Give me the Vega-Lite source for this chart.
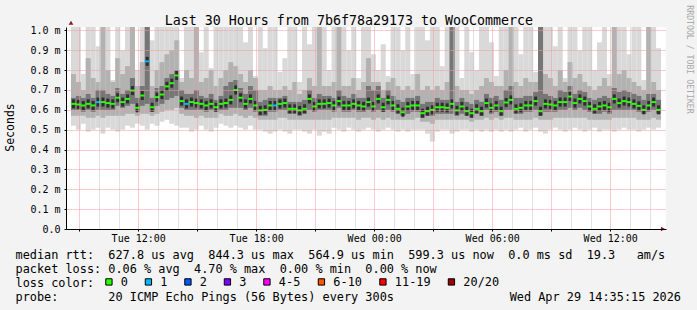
{
  "$schema": "https://vega.github.io/schema/vega-lite/v6.json",
  "width": 600,
  "height": 202,
  "autosize": {"type": "none"},
  "padding": {"left": 66, "top": 27, "right": 31, "bottom": 81},
  "background": "#f3f3f3",
  "config": {
    "view": {"fill": "white", "stroke": null},
    "font": "DejaVu Sans Mono",
    "axis": {"labelFlush": false, "labelOverlap": false, "labelBound": false}
  },
  "data": {"values": [
    {"t":8.708,"m":0.630,"l":"0","a":0.52,"b":1.05,"c":0.57,"d":0.78,"e":0.60,"f":0.66},
    {"t":8.958,"m":0.627,"l":"0","a":0.50,"b":1.05,"c":0.57,"d":0.74,"e":0.60,"f":0.67},
    {"t":9.208,"m":0.622,"l":"0","a":0.53,"b":0.78,"c":0.57,"d":0.70,"e":0.59,"f":0.66},
    {"t":9.458,"m":0.630,"l":"0","a":0.49,"b":1.05,"c":0.56,"d":0.86,"e":0.60,"f":0.68},
    {"t":9.708,"m":0.622,"l":"0","a":0.50,"b":1.05,"c":0.56,"d":0.76,"e":0.59,"f":0.66},
    {"t":9.958,"m":0.639,"l":"1","a":0.51,"b":0.92,"c":0.57,"d":0.74,"e":0.60,"f":0.70},
    {"t":10.208,"m":0.639,"l":"0","a":0.48,"b":1.05,"c":0.56,"d":1.05,"e":0.60,"f":0.70},
    {"t":10.458,"m":0.634,"l":"0","a":0.51,"b":1.05,"c":0.57,"d":0.80,"e":0.60,"f":0.68},
    {"t":10.708,"m":0.630,"l":"0","a":0.50,"b":0.75,"c":0.57,"d":0.74,"e":0.60,"f":0.67},
    {"t":10.958,"m":0.661,"l":"0","a":0.49,"b":1.05,"c":0.57,"d":0.86,"e":0.62,"f":0.71},
    {"t":11.208,"m":0.639,"l":"0","a":0.50,"b":0.90,"c":0.57,"d":0.78,"e":0.61,"f":0.68},
    {"t":11.458,"m":0.655,"l":"0","a":0.52,"b":1.05,"c":0.58,"d":0.82,"e":0.62,"f":0.70},
    {"t":11.708,"m":0.697,"l":"0","a":0.51,"b":1.05,"c":0.58,"d":1.05,"e":0.63,"f":0.76},
    {"t":11.958,"m":0.610,"l":"0","a":0.53,"b":0.80,"c":0.57,"d":0.72,"e":0.59,"f":0.66},
    {"t":12.208,"m":0.672,"l":"0","a":0.52,"b":1.05,"c":0.58,"d":0.84,"e":0.62,"f":0.72},
    {"t":12.458,"m":0.844,"l":"1","a":0.50,"b":1.05,"c":0.58,"d":1.05,"e":0.63,"f":1.05},
    {"t":12.708,"m":0.613,"l":"0","a":0.53,"b":0.95,"c":0.57,"d":0.72,"e":0.59,"f":0.66},
    {"t":12.958,"m":0.664,"l":"0","a":0.52,"b":1.05,"c":0.58,"d":0.80,"e":0.62,"f":0.71},
    {"t":13.208,"m":0.677,"l":"0","a":0.54,"b":1.05,"c":0.59,"d":0.84,"e":0.63,"f":0.72},
    {"t":13.458,"m":0.718,"l":"0","a":0.55,"b":1.05,"c":0.60,"d":0.88,"e":0.65,"f":0.76},
    {"t":13.708,"m":0.734,"l":"0","a":0.53,"b":1.05,"c":0.60,"d":0.90,"e":0.66,"f":0.78},
    {"t":13.958,"m":0.773,"l":"0","a":0.52,"b":1.05,"c":0.61,"d":0.95,"e":0.67,"f":0.80},
    {"t":14.208,"m":0.644,"l":"0","a":0.51,"b":0.76,"c":0.58,"d":0.74,"e":0.61,"f":0.70},
    {"t":14.458,"m":0.630,"l":"1","a":0.51,"b":1.05,"c":0.57,"d":0.80,"e":0.60,"f":0.68},
    {"t":14.708,"m":0.639,"l":"0","a":0.49,"b":1.05,"c":0.57,"d":0.76,"e":0.60,"f":0.68},
    {"t":14.958,"m":0.634,"l":"0","a":0.50,"b":1.05,"c":0.56,"d":1.05,"e":0.60,"f":0.70},
    {"t":15.208,"m":0.630,"l":"0","a":0.52,"b":0.89,"c":0.57,"d":0.74,"e":0.60,"f":0.67},
    {"t":15.458,"m":0.622,"l":"0","a":0.50,"b":1.05,"c":0.56,"d":0.76,"e":0.59,"f":0.66},
    {"t":15.708,"m":0.630,"l":"0","a":0.49,"b":0.81,"c":0.56,"d":0.80,"e":0.60,"f":0.68},
    {"t":15.958,"m":0.613,"l":"0","a":0.51,"b":1.05,"c":0.56,"d":0.72,"e":0.59,"f":0.65},
    {"t":16.208,"m":0.630,"l":"0","a":0.53,"b":1.05,"c":0.58,"d":0.76,"e":0.60,"f":0.67},
    {"t":16.458,"m":0.634,"l":"0","a":0.52,"b":1.05,"c":0.57,"d":0.80,"e":0.60,"f":0.72},
    {"t":16.708,"m":0.650,"l":"0","a":0.51,"b":1.05,"c":0.57,"d":0.84,"e":0.61,"f":0.74},
    {"t":16.958,"m":0.700,"l":"0","a":0.52,"b":1.05,"c":0.58,"d":0.82,"e":0.61,"f":0.75},
    {"t":17.208,"m":0.661,"l":"0","a":0.51,"b":1.05,"c":0.57,"d":0.78,"e":0.61,"f":0.71},
    {"t":17.458,"m":0.630,"l":"0","a":0.50,"b":0.94,"c":0.56,"d":0.74,"e":0.60,"f":0.68},
    {"t":17.708,"m":0.655,"l":"0","a":0.52,"b":1.05,"c":0.57,"d":0.80,"e":0.61,"f":0.72},
    {"t":17.958,"m":0.622,"l":"0","a":0.50,"b":0.77,"c":0.56,"d":0.76,"e":0.59,"f":0.70},
    {"t":18.208,"m":0.597,"l":"0","a":0.50,"b":1.05,"c":0.55,"d":0.70,"e":0.57,"f":0.64},
    {"t":18.458,"m":0.600,"l":"0","a":0.49,"b":0.91,"c":0.55,"d":0.70,"e":0.57,"f":0.65},
    {"t":18.708,"m":0.622,"l":"0","a":0.48,"b":1.05,"c":0.55,"d":0.72,"e":0.59,"f":0.66},
    {"t":18.958,"m":0.622,"l":"1","a":0.49,"b":1.05,"c":0.55,"d":0.70,"e":0.59,"f":0.66},
    {"t":19.208,"m":0.630,"l":"0","a":0.50,"b":0.79,"c":0.56,"d":0.70,"e":0.60,"f":0.66},
    {"t":19.458,"m":0.634,"l":"0","a":0.49,"b":0.86,"c":0.56,"d":0.72,"e":0.60,"f":0.67},
    {"t":19.708,"m":0.605,"l":"0","a":0.48,"b":1.05,"c":0.55,"d":0.70,"e":0.58,"f":0.64},
    {"t":19.958,"m":0.605,"l":"0","a":0.50,"b":1.05,"c":0.55,"d":0.74,"e":0.58,"f":0.64},
    {"t":20.208,"m":0.597,"l":"0","a":0.50,"b":0.74,"c":0.55,"d":0.68,"e":0.57,"f":0.64},
    {"t":20.458,"m":0.605,"l":"0","a":0.49,"b":1.05,"c":0.55,"d":0.70,"e":0.58,"f":0.65},
    {"t":20.708,"m":0.655,"l":"0","a":0.48,"b":0.93,"c":0.55,"d":0.76,"e":0.60,"f":0.70},
    {"t":20.958,"m":0.617,"l":"0","a":0.50,"b":1.05,"c":0.55,"d":0.72,"e":0.59,"f":0.66},
    {"t":21.208,"m":0.630,"l":"0","a":0.47,"b":1.05,"c":0.55,"d":1.05,"e":0.60,"f":0.68},
    {"t":21.458,"m":0.630,"l":"0","a":0.49,"b":1.05,"c":0.55,"d":0.72,"e":0.60,"f":0.67},
    {"t":21.708,"m":0.634,"l":"0","a":0.48,"b":0.80,"c":0.55,"d":0.72,"e":0.60,"f":0.67},
    {"t":21.958,"m":0.622,"l":"0","a":0.51,"b":1.05,"c":0.56,"d":0.74,"e":0.59,"f":0.66},
    {"t":22.208,"m":0.644,"l":"0","a":0.50,"b":1.05,"c":0.56,"d":1.05,"e":0.61,"f":0.70},
    {"t":22.458,"m":0.622,"l":"0","a":0.49,"b":1.05,"c":0.56,"d":0.72,"e":0.59,"f":0.67},
    {"t":22.708,"m":0.622,"l":"0","a":0.51,"b":0.90,"c":0.56,"d":0.72,"e":0.59,"f":0.66},
    {"t":22.958,"m":0.630,"l":"0","a":0.50,"b":1.05,"c":0.56,"d":0.76,"e":0.60,"f":0.68},
    {"t":23.208,"m":0.622,"l":"0","a":0.49,"b":0.76,"c":0.55,"d":0.70,"e":0.59,"f":0.66},
    {"t":23.458,"m":0.617,"l":"0","a":0.50,"b":1.05,"c":0.56,"d":0.74,"e":0.59,"f":0.66},
    {"t":23.708,"m":0.639,"l":"0","a":0.51,"b":1.05,"c":0.56,"d":0.86,"e":0.60,"f":0.72},
    {"t":23.958,"m":0.617,"l":"0","a":0.50,"b":0.88,"c":0.55,"d":0.74,"e":0.59,"f":0.70},
    {"t":24.208,"m":0.655,"l":"0","a":0.49,"b":0.80,"c":0.56,"d":0.74,"e":0.60,"f":0.72},
    {"t":24.458,"m":0.613,"l":"0","a":0.50,"b":0.93,"c":0.55,"d":0.70,"e":0.59,"f":0.66},
    {"t":24.708,"m":0.650,"l":"0","a":0.51,"b":0.77,"c":0.56,"d":0.74,"e":0.60,"f":0.70},
    {"t":24.958,"m":0.622,"l":"0","a":0.50,"b":1.05,"c":0.55,"d":0.76,"e":0.59,"f":0.67},
    {"t":25.208,"m":0.605,"l":"0","a":0.49,"b":1.05,"c":0.55,"d":0.72,"e":0.58,"f":0.65},
    {"t":25.458,"m":0.588,"l":"0","a":0.50,"b":0.90,"c":0.55,"d":0.70,"e":0.57,"f":0.64},
    {"t":25.708,"m":0.617,"l":"0","a":0.49,"b":1.05,"c":0.55,"d":0.72,"e":0.58,"f":0.66},
    {"t":25.958,"m":0.622,"l":"0","a":0.50,"b":0.78,"c":0.55,"d":0.70,"e":0.59,"f":0.66},
    {"t":26.208,"m":0.622,"l":"0","a":0.50,"b":1.05,"c":0.56,"d":0.78,"e":0.59,"f":0.67},
    {"t":26.458,"m":0.583,"l":"0","a":0.50,"b":1.05,"c":0.54,"d":0.70,"e":0.56,"f":0.63},
    {"t":26.708,"m":0.593,"l":"0","a":0.48,"b":0.95,"c":0.54,"d":0.72,"e":0.57,"f":0.64},
    {"t":26.958,"m":0.600,"l":"0","a":0.44,"b":1.05,"c":0.53,"d":0.70,"e":0.57,"f":0.64},
    {"t":27.208,"m":0.613,"l":"0","a":0.49,"b":1.05,"c":0.55,"d":0.72,"e":0.58,"f":0.66},
    {"t":27.458,"m":0.613,"l":"0","a":0.50,"b":0.82,"c":0.55,"d":0.70,"e":0.58,"f":0.65},
    {"t":27.708,"m":0.610,"l":"0","a":0.50,"b":1.05,"c":0.55,"d":0.74,"e":0.58,"f":0.65},
    {"t":27.958,"m":0.630,"l":"0","a":0.48,"b":1.05,"c":0.55,"d":1.05,"e":0.58,"f":1.05},
    {"t":28.208,"m":0.597,"l":"0","a":0.49,"b":1.05,"c":0.55,"d":0.72,"e":0.57,"f":0.64},
    {"t":28.458,"m":0.617,"l":"0","a":0.50,"b":0.76,"c":0.55,"d":0.70,"e":0.58,"f":0.66},
    {"t":28.708,"m":0.593,"l":"0","a":0.50,"b":1.05,"c":0.55,"d":0.70,"e":0.57,"f":0.64},
    {"t":28.958,"m":0.583,"l":"0","a":0.49,"b":0.89,"c":0.54,"d":0.68,"e":0.56,"f":0.63},
    {"t":29.208,"m":0.605,"l":"0","a":0.50,"b":0.80,"c":0.55,"d":0.70,"e":0.58,"f":0.65},
    {"t":29.458,"m":0.593,"l":"0","a":0.49,"b":1.05,"c":0.55,"d":0.72,"e":0.57,"f":0.64},
    {"t":29.708,"m":0.634,"l":"0","a":0.50,"b":1.05,"c":0.56,"d":0.76,"e":0.60,"f":0.68},
    {"t":29.958,"m":0.610,"l":"0","a":0.49,"b":0.94,"c":0.55,"d":0.74,"e":0.58,"f":0.66},
    {"t":30.208,"m":0.622,"l":"0","a":0.50,"b":0.77,"c":0.56,"d":0.72,"e":0.59,"f":0.67},
    {"t":30.458,"m":0.593,"l":"0","a":0.49,"b":1.05,"c":0.55,"d":0.72,"e":0.57,"f":0.65},
    {"t":30.708,"m":0.637,"l":"0","a":0.50,"b":1.05,"c":0.56,"d":0.80,"e":0.60,"f":0.70},
    {"t":30.958,"m":0.650,"l":"0","a":0.49,"b":1.05,"c":0.56,"d":1.05,"e":0.60,"f":0.72},
    {"t":31.208,"m":0.605,"l":"0","a":0.50,"b":1.05,"c":0.55,"d":0.74,"e":0.58,"f":0.66},
    {"t":31.458,"m":0.610,"l":"0","a":0.51,"b":0.88,"c":0.55,"d":0.72,"e":0.58,"f":0.66},
    {"t":31.708,"m":0.622,"l":"0","a":0.49,"b":1.05,"c":0.55,"d":0.76,"e":0.59,"f":0.67},
    {"t":31.958,"m":0.622,"l":"0","a":0.50,"b":1.05,"c":0.55,"d":0.74,"e":0.59,"f":0.67},
    {"t":32.208,"m":0.644,"l":"0","a":0.51,"b":0.79,"c":0.56,"d":0.74,"e":0.60,"f":0.69},
    {"t":32.458,"m":0.593,"l":"0","a":0.49,"b":1.05,"c":0.55,"d":1.05,"e":0.57,"f":1.05},
    {"t":32.708,"m":0.630,"l":"0","a":0.48,"b":1.05,"c":0.55,"d":0.78,"e":0.59,"f":0.68},
    {"t":32.958,"m":0.627,"l":"0","a":0.50,"b":1.05,"c":0.55,"d":0.76,"e":0.59,"f":0.67},
    {"t":33.208,"m":0.622,"l":"0","a":0.51,"b":0.92,"c":0.56,"d":0.72,"e":0.59,"f":0.66},
    {"t":33.458,"m":0.639,"l":"0","a":0.50,"b":1.05,"c":0.56,"d":0.80,"e":0.60,"f":0.70},
    {"t":33.708,"m":0.639,"l":"0","a":0.49,"b":0.76,"c":0.56,"d":0.74,"e":0.60,"f":0.69},
    {"t":33.958,"m":0.667,"l":"0","a":0.50,"b":1.05,"c":0.56,"d":0.84,"e":0.61,"f":0.72},
    {"t":34.208,"m":0.634,"l":"0","a":0.51,"b":1.05,"c":0.56,"d":0.76,"e":0.60,"f":0.68},
    {"t":34.458,"m":0.655,"l":"0","a":0.50,"b":0.90,"c":0.56,"d":0.78,"e":0.61,"f":0.70},
    {"t":34.708,"m":0.644,"l":"0","a":0.49,"b":1.05,"c":0.56,"d":0.74,"e":0.60,"f":0.69},
    {"t":34.958,"m":0.617,"l":"0","a":0.50,"b":1.05,"c":0.55,"d":0.72,"e":0.59,"f":0.66},
    {"t":35.208,"m":0.605,"l":"0","a":0.51,"b":0.80,"c":0.55,"d":0.70,"e":0.58,"f":0.65},
    {"t":35.458,"m":0.617,"l":"0","a":0.49,"b":0.94,"c":0.55,"d":0.72,"e":0.58,"f":0.66},
    {"t":35.708,"m":0.622,"l":"0","a":0.50,"b":1.05,"c":0.55,"d":0.76,"e":0.59,"f":0.67},
    {"t":35.958,"m":0.613,"l":"0","a":0.50,"b":0.78,"c":0.55,"d":0.72,"e":0.58,"f":0.66},
    {"t":36.208,"m":0.655,"l":"0","a":0.49,"b":1.05,"c":0.56,"d":1.05,"e":0.60,"f":0.71},
    {"t":36.458,"m":0.634,"l":"0","a":0.50,"b":1.05,"c":0.56,"d":0.78,"e":0.60,"f":0.69},
    {"t":36.708,"m":0.644,"l":"0","a":0.51,"b":1.05,"c":0.56,"d":0.80,"e":0.60,"f":0.70},
    {"t":36.958,"m":0.639,"l":"0","a":0.50,"b":0.88,"c":0.56,"d":0.76,"e":0.60,"f":0.69},
    {"t":37.208,"m":0.630,"l":"0","a":0.50,"b":1.05,"c":0.56,"d":0.74,"e":0.60,"f":0.68},
    {"t":37.458,"m":0.620,"l":"0","a":0.49,"b":1.05,"c":0.55,"d":0.72,"e":0.59,"f":0.67},
    {"t":37.708,"m":0.600,"l":"0","a":0.50,"b":0.75,"c":0.55,"d":0.70,"e":0.58,"f":0.65},
    {"t":37.958,"m":0.622,"l":"0","a":0.51,"b":1.05,"c":0.55,"d":1.05,"e":0.59,"f":0.68},
    {"t":38.208,"m":0.639,"l":"0","a":0.50,"b":1.05,"c":0.56,"d":0.74,"e":0.60,"f":0.68},
    {"t":38.458,"m":0.600,"l":"0","a":0.51,"b":0.91,"c":0.55,"d":0.70,"e":0.58,"f":0.65}
  ]},
  "layer": [
    {
      "mark": {"type": "bar", "width": 5, "color": "#d9d9d9", "clip": true},
      "encoding": {
        "x": {"field": "t", "type": "quantitative", "scale": {"domain": [8.583, 38.583], "nice": false, "zero": false},
          "axis": {"orient": "bottom", "values": [10,11,13,14,16,17,19,20,22,23,25,26,28,29,31,32,34,35,37,38],
            "grid": true, "gridColor": "#c4c4c4", "gridDash": [1,1], "labels": false, "ticks": false, "domain": false,
            "title": "Last 30 Hours from 7b6f78a29173 to WooCommerce", "titleX": 282.4, "titleY": -205, "titleAlign": "center", "titleBaseline": "alphabetic",
            "titleFont": "DejaVu Sans Mono", "titleFontSize": 13.3, "titleFontWeight": "normal", "titleColor": "#000000", "zindex": 1}},
        "y": {"field": "a", "type": "quantitative", "scale": {"domain": [0, 1.017], "nice": false, "zero": false},
          "axis": {"orient": "left", "values": [0,0.1,0.2,0.3,0.4,0.5,0.6,0.7,0.8,0.9,1.0],
            "labelExpr": "datum.value == 0 ? '0.0' : format(datum.value, '.1f') + ' m'",
            "labelFont": "DejaVu Sans Mono", "labelFontSize": 10, "labelColor": "#000000", "labelPadding": 4,
            "tickSize": 2, "tickColor": "#000000", "domainColor": "#000000",
            "grid": true, "gridColor": "#ee9a9a", "gridDash": [1,1],
            "title": "Seconds", "titleFont": "DejaVu Sans Mono", "titleFontSize": 11.5, "titleFontWeight": "normal", "titleColor": "#000000",
            "titleAngle": 270, "titleX": -56, "titleY": 100, "titleAlign": "center", "titleBaseline": "middle", "zindex": 1}},
        "y2": {"field": "b"}
      }
    },
    {
      "mark": {"type": "bar", "width": 5, "color": "#b2b2b2", "clip": true},
      "encoding": {
        "x": {"field": "t", "type": "quantitative", "scale": {"domain": [8.583, 38.583], "nice": false, "zero": false},
          "axis": {"orient": "bottom", "values": [9,12,15,18,21,24,27,30,33,36],
            "grid": true, "gridColor": "#ee9a9a", "gridDash": [1,1], "labels": false, "ticks": true, "tickSize": 2, "tickColor": "#000000", "domain": false,
            "title": "Wed Apr 29 14:35:15 2026", "titleX": 614.5, "titleY": 71, "titleAlign": "right", "titleBaseline": "alphabetic",
            "titleFont": "DejaVu Sans Mono", "titleFontSize": 11.86, "titleFontWeight": "normal", "titleColor": "#000000", "zindex": 1}},
        "y": {"field": "c", "type": "quantitative", "scale": {"domain": [0, 1.017], "nice": false, "zero": false},
          "axis": {"orient": "right", "labels": false, "ticks": false, "domain": false, "grid": false,
            "title": "RRDTOOL / TOBI OETIKER", "titleAngle": 90, "titleX": 22.3, "titleY": 32, "titleAlign": "center", "titleBaseline": "middle",
            "titleFont": "DejaVu Sans Mono", "titleFontSize": 8.2, "titleFontWeight": "normal", "titleColor": "#a8a8a8"}},
        "y2": {"field": "d"}
      }
    },
    {
      "mark": {"type": "bar", "width": 5, "color": "#767676", "clip": true},
      "encoding": {
        "x": {"field": "t", "type": "quantitative", "scale": {"domain": [8.583, 38.583], "nice": false, "zero": false},
          "axis": {"orient": "bottom", "values": [12,18,24,30,36],
            "labelExpr": "datum.value == 12 ? 'Tue 12:00' : datum.value == 18 ? 'Tue 18:00' : datum.value == 24 ? 'Wed 00:00' : datum.value == 30 ? 'Wed 06:00' : 'Wed 12:00'",
            "labelFont": "DejaVu Sans Mono", "labelFontSize": 10, "labelColor": "#000000", "labelPadding": 4,
            "ticks": false, "tickSize": 0, "grid": false, "domain": true, "domainColor": "#000000",
            "title": [
              "median\u00a0rtt:\u00a0\u00a0627.8\u00a0us\u00a0avg\u00a0\u00a0844.3\u00a0us\u00a0max\u00a0\u00a0564.9\u00a0us\u00a0min\u00a0\u00a0599.3\u00a0us\u00a0now\u00a0\u00a00.0\u00a0ms\u00a0sd\u00a0\u00a019.3\u00a0\u00a0\u00a0am/s",
              "packet\u00a0loss:\u00a00.06\u00a0%\u00a0avg\u00a0\u00a04.70\u00a0%\u00a0max\u00a0\u00a00.00\u00a0%\u00a0min\u00a0\u00a00.00\u00a0%\u00a0now",
              "loss\u00a0color:",
              "probe:\u00a0\u00a0\u00a0\u00a0\u00a0\u00a0\u00a020\u00a0ICMP\u00a0Echo\u00a0Pings\u00a0(56\u00a0Bytes)\u00a0every\u00a0300s"
            ],
            "titleX": -51, "titleY": 29, "titleAlign": "left", "titleBaseline": "alphabetic", "titleLineHeight": 14,
            "titleFont": "DejaVu Sans Mono", "titleFontSize": 11.86, "titleFontWeight": "normal", "titleColor": "#000000", "zindex": 2}},
        "y": {"field": "e", "type": "quantitative", "scale": {"domain": [0, 1.017], "nice": false, "zero": false}, "axis": null},
        "y2": {"field": "f"}
      }
    },
    {
      "mark": {"type": "tick", "orient": "vertical", "thickness": 3, "size": 9, "color": "#2e2e2e", "opacity": 1, "clip": true},
      "encoding": {
        "x": {"field": "t", "type": "quantitative", "scale": {"domain": [8.583, 38.583], "nice": false, "zero": false}, "axis": null},
        "y": {"field": "m", "type": "quantitative", "scale": {"domain": [0, 1.017], "nice": false, "zero": false}, "axis": null}
      }
    },
    {
      "mark": {"type": "tick", "orient": "horizontal", "thickness": 2, "size": 5, "opacity": 1, "clip": true},
      "encoding": {
        "x": {"field": "t", "type": "quantitative", "scale": {"domain": [8.583, 38.583], "nice": false, "zero": false}, "axis": null},
        "y": {"field": "m", "type": "quantitative", "scale": {"domain": [0, 1.017], "nice": false, "zero": false}, "axis": null},
        "color": {"field": "l", "type": "nominal",
          "scale": {"domain": ["0","1","2","3","4-5","6-10","11-19","20/20"],
                    "range": ["#26ff00","#00b8ff","#0059ff","#7e00ff","#ff00ff","#ff5500","#ff0000","#a10000"]},
          "legend": {"orient": "none", "legendX": 37, "legendY": 249, "direction": "horizontal", "columns": 8, "gridAlign": "none",
            "title": null, "symbolType": "square", "symbolSize": 40, "symbolStrokeWidth": 1, "symbolOpacity": 1,
            "labelFont": "DejaVu Sans Mono", "labelFontSize": 11.86, "labelColor": "#000000", "labelOffset": 6, "columnPadding": 14.5, "padding": 0,
            "encode": {"symbols": {"update": {"stroke": {"value": "#000000"}, "strokeWidth": {"value": 1}, "opacity": {"value": 1}}}}}}
      }
    },
    {
      "data": {"values": [{}]},
      "mark": {"type": "point", "shape": "triangle-up", "filled": true, "size": 22, "color": "#8b1a1a", "opacity": 1, "clip": false},
      "encoding": {
        "x": {"datum": 8.583, "type": "quantitative", "scale": {"domain": [8.583, 38.583], "nice": false, "zero": false}, "axis": null},
        "y": {"datum": 1.038, "type": "quantitative", "scale": {"domain": [0, 1.017], "nice": false, "zero": false}, "axis": null}
      }
    },
    {
      "data": {"values": [{}]},
      "mark": {"type": "point", "shape": "triangle-right", "filled": true, "size": 22, "color": "#8b1a1a", "opacity": 1, "clip": false},
      "encoding": {
        "x": {"datum": 38.683, "type": "quantitative", "scale": {"domain": [8.583, 38.583], "nice": false, "zero": false}, "axis": null},
        "y": {"datum": 0, "type": "quantitative", "scale": {"domain": [0, 1.017], "nice": false, "zero": false}, "axis": null}
      }
    }
  ],
  "resolve": {"axis": {"x": "independent", "y": "independent"}}
}
